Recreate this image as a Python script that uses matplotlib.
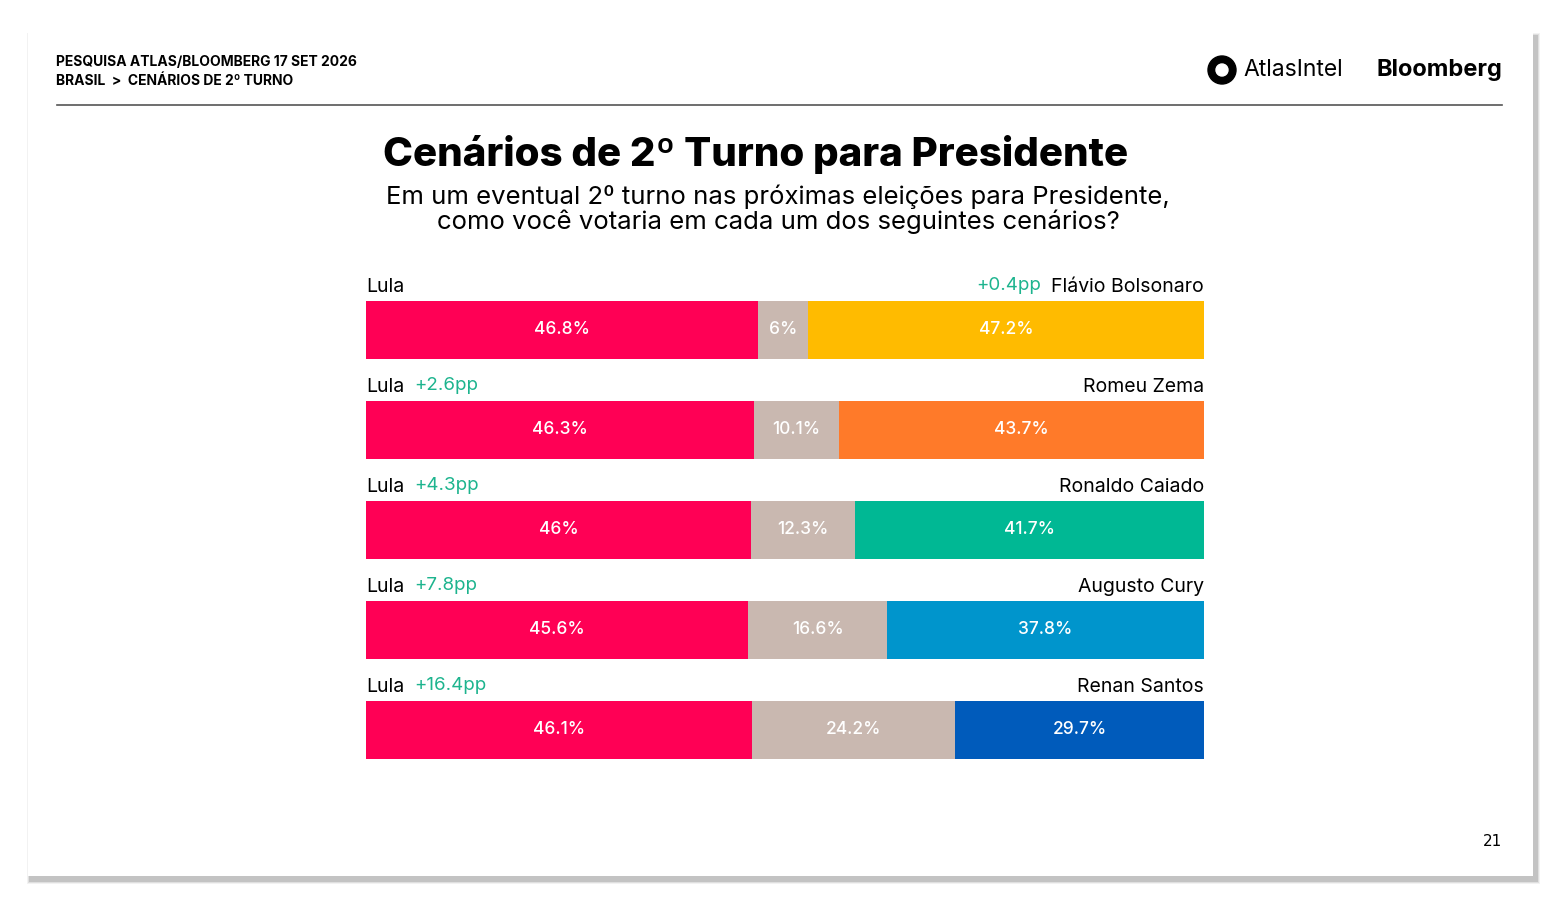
import matplotlib
matplotlib.use("Agg")
import matplotlib.pyplot as plt
from matplotlib.patches import Rectangle, Circle

lula = [46.8, 46.3, 46.0, 45.6, 46.1]
other = [6.0, 10.1, 12.3, 16.6, 24.2]
opp = [47.2, 43.7, 41.7, 37.8, 29.7]
opp_names = ["Flávio Bolsonaro", "Romeu Zema", "Ronaldo Caiado", "Augusto Cury", "Renan Santos"]
other_labels = ["6%", "10.1%", "12.3%", "16.6%", "24.2%"]
lula_labels = ["46.8%", "46.3%", "46%", "45.6%", "46.1%"]
opp_labels = ["47.2%", "43.7%", "41.7%", "37.8%", "29.7%"]
diffs = ["+0.4pp", "+2.6pp", "+4.3pp", "+7.8pp", "+16.4pp"]
diff_left = [False, True, True, True, True]
opp_colors = ["#FFBB00", "#FF7A29", "#00B894", "#0095CC", "#005BBB"]
RED = "#FF0055"; GRAY = "#C9B8B0"; GREEN = "#1DB48E"

W, H = 1558, 902
fig = plt.figure(figsize=(W/100, H/100), dpi=100)
fig.patch.set_facecolor("white")
bg = fig.add_axes([0, 0, 1, 1]); bg.set_xlim(0, W); bg.set_ylim(H, 0); bg.axis("off")
for i, a in enumerate([0.05, 0.08, 0.12]):
    d = 4 - i
    bg.add_patch(Rectangle((28-d+3, 33-d+4), 1505+2*d, 843+2*d, color="black", alpha=a, lw=0))
bg.add_patch(Rectangle((28, 33), 1505, 843, color="white", lw=0))
bg.plot([57, 1502], [105, 105], color="#555555", lw=1.2)
bg.text(56, 62, "PESQUISA ATLAS/BLOOMBERG 17 SET 2026", fontsize=10, weight="bold", va="center", family="Inter")
bg.text(56, 81, "BRASIL  >  CENÁRIOS DE 2º TURNO", fontsize=10, weight="bold", va="center", family="Inter")
bg.add_patch(Circle((1222, 70), 14, color="black"))
bg.add_patch(Circle((1222, 70), 6, color="white"))
bg.text(1243, 70, "AtlasIntel", fontsize=16.5, va="center", family="Inter")
bg.text(1502, 70, "Bloomberg", fontsize=17, weight="bold", va="center", ha="right", family="Inter")
bg.text(756, 155, "Cenários de 2º Turno para Presidente", fontsize=29, weight="heavy", ha="center", va="center", family="Inter")
bg.text(778, 209, "Em um eventual 2º turno nas próximas eleições para Presidente,\ncomo você votaria em cada um dos seguintes cenários?",
        fontsize=18.5, ha="center", va="center", family="Inter", linespacing=1.05)
bg.text(1502, 841, "21", fontsize=11, ha="right", va="center")

ax = fig.add_axes([366/W, 1-759/H, (1204-366)/W, (759-301)/H])
ax.set_xlim(0, 100); ax.set_ylim(4.29, -0.29); ax.axis("off")
rows = list(range(5))
ax.barh(rows, lula, height=0.58, color=RED)
ax.barh(rows, other, left=lula, height=0.58, color=GRAY)
ax.barh(rows, opp, left=[l+o for l, o in zip(lula, other)], height=0.58, color=opp_colors)
tk = dict(color="white", fontsize=12.5, ha="center", va="center", family="Inter", weight="medium")
for i in rows:
    ax.text(lula[i]/2, i, lula_labels[i], **tk)
    ax.text(lula[i]+other[i]/2, i, other_labels[i], **tk)
    ax.text(lula[i]+other[i]+opp[i]/2, i, opp_labels[i], **tk)
    ax.text(0, i-0.43, "Lula", fontsize=14, va="center", family="Inter", clip_on=False)
    ax.text(100, i-0.43, opp_names[i], fontsize=14, va="center", ha="right", family="Inter", clip_on=False)
    if diff_left[i]:
        ax.text(5.8, i-0.44, diffs[i], fontsize=13.5, va="center", color=GREEN, family="Inter", clip_on=False)
    else:
        ax.text(80.6, i-0.44, diffs[i], fontsize=13.5, va="center", ha="right", color=GREEN, family="Inter", clip_on=False)
fig.savefig("out.png", dpi=100)
